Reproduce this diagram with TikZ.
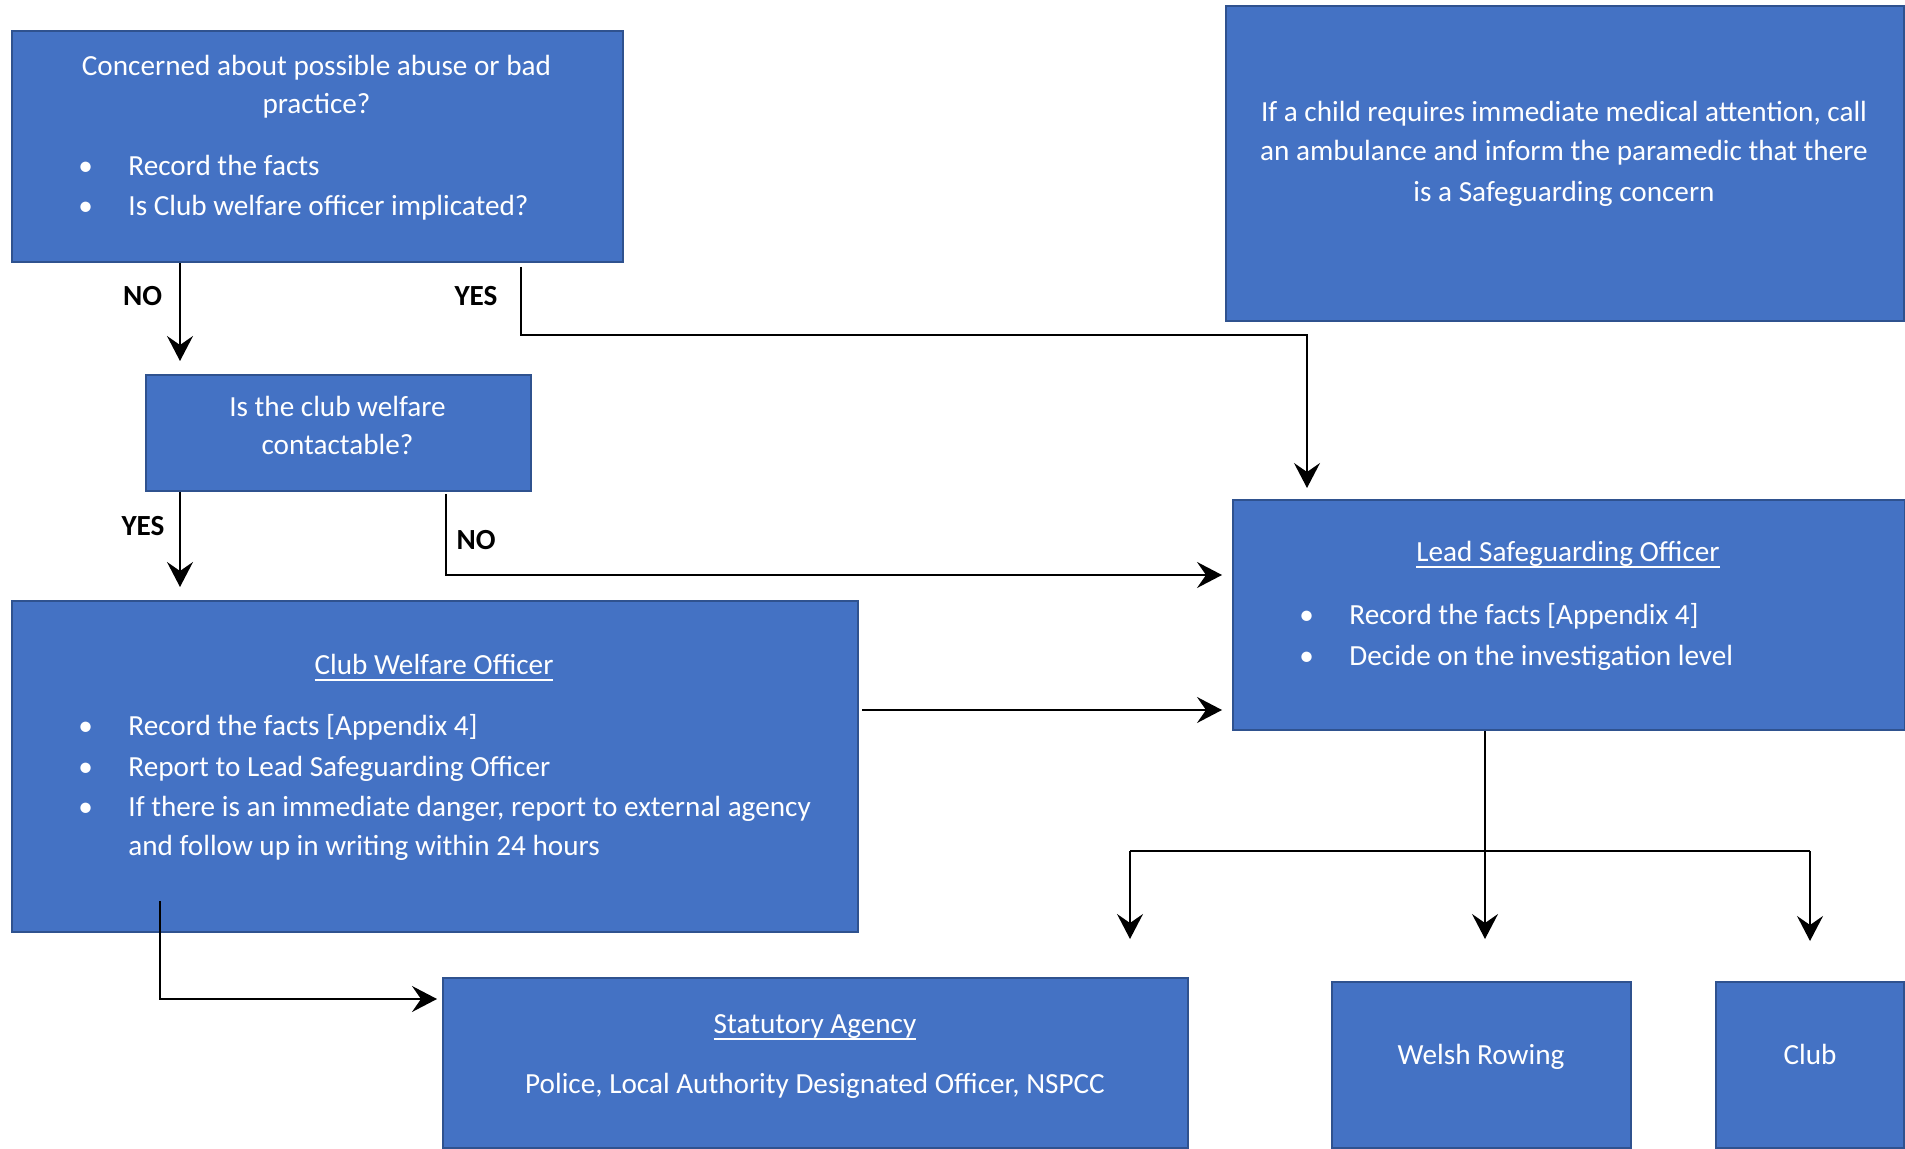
\documentclass[tikz,border=0pt]{standalone}
\usepackage{fontspec}
\setmainfont{Carlito}
\usetikzlibrary{arrows.meta}
\definecolor{boxblue}{HTML}{4472C4}
\definecolor{boxedge}{HTML}{2F528F}
\newcommand{\bul}{\makebox[25pt][l]{•}}
\newsavebox{\ulbox}
\newcommand{\myul}[1]{\sbox{\ulbox}{#1}\rlap{\rule[-3.1pt]{\wd\ulbox}{0.9pt}}\usebox{\ulbox}}
\begin{document}
\begin{tikzpicture}[x=0.5pt,y=-0.5pt,
  box/.style={draw=boxedge, line width=1pt, fill=boxblue, inner sep=0pt, anchor=north west},
  txt/.style={text=white, inner sep=0pt, anchor=base, font=\fontsize{14.6}{19.5}\selectfont},
  ltxt/.style={txt, anchor=base west},
  lbl/.style={text=black, inner sep=0pt, anchor=base, font=\fontsize{14.6}{19.5}\selectfont\bfseries},
  conn/.style={draw=black, line width=0.75pt},
  arr/.style={conn, -{Stealth[length=12.5pt,width=13pt,inset=4.5pt]}},
]
\useasboundingbox (0,0) rectangle (1905,1149);
\clip (0,0) rectangle (1905,1149);

% boxes
\node[box, minimum width=305.5pt, minimum height=115.5pt] (concern) at (11,30) {};
\node[box, minimum width=339pt, minimum height=157.5pt] (medical) at (1225,5) {};
\node[box, minimum width=192.5pt, minimum height=58pt] (contact) at (145,374) {};
\node[box, minimum width=336pt, minimum height=115pt] (lso) at (1232,499) {};
\node[box, minimum width=423pt, minimum height=165.5pt] (cwo) at (11,600) {};
\node[box, minimum width=372.5pt, minimum height=85pt] (stat) at (442,977) {};
\node[box, minimum width=149.5pt, minimum height=83pt] (welsh) at (1331,981) {};
\node[box, minimum width=94pt, minimum height=83pt] (club) at (1715,981) {};

% texts
\node[txt] (c1) at (316.5,75.5) {Concerned about possible abuse or bad};
\node[txt] (c2) at (316.5,114) {practice?};
\node[ltxt] (c3) at (78,175.5) {\bul Record the facts};
\node[ltxt] (c4) at (78,215.5) {\bul Is Club welfare officer implicated?};

\node[txt] (m1) at (1564,122) {If a child requires immediate medical attention, call};
\node[txt] (m2) at (1564,161) {an ambulance and inform the paramedic that there};
\node[txt] (m3) at (1564,201.5) {is a Safeguarding concern};

\node[txt] (k1) at (337.5,416.5) {Is the club welfare};
\node[txt] (k2) at (337.5,455) {contactable?};

\node[txt] (w0) at (434,674.5) {\myul{Club Welfare Officer}};
\node[ltxt] (w1) at (78,735) {\bul Record the facts [Appendix 4]};
\node[ltxt] (w2) at (78,776) {\bul Report to Lead Safeguarding Officer};
\node[ltxt] (w3) at (78,816) {\bul If there is an immediate danger, report to external agency};
\node[ltxt] (w4) at (128,855) {and follow up in writing within 24 hours};

\node[txt] (l0) at (1568,561.5) {\myul{Lead Safeguarding Officer}};
\node[ltxt] (l1) at (1299,624.5) {\bul Record the facts [Appendix 4]};
\node[ltxt] (l2) at (1299,665) {\bul Decide on the investigation level};

\node[txt] (s0) at (815,1033.5) {\myul{Statutory Agency}};
\node[txt] (s1t) at (815,1093) {Police, Local Authority Designated Officer, NSPCC};
\node[txt] (wr) at (1481,1064.5) {Welsh Rowing};
\node[txt] (cl) at (1810,1064.5) {Club};

% labels
\node[lbl] (no1) at (142.5,306) {NO};
\node[lbl] (yes1) at (476,306) {YES};
\node[lbl] (yes2) at (143,535.5) {YES};
\node[lbl] (no2l) at (476,549.5) {NO};

% connector coordinates
\coordinate (noX) at (180,0);
\coordinate (yesA) at (521,335);
\coordinate (yesB) at (1307,335);
\coordinate (no2) at (446,575);
\coordinate (midY) at (0,710);
\coordinate (sa) at (160,901);
\coordinate (sb) at (160,999);
\coordinate (bl) at (1130,851);
\coordinate (bm) at (1485,851);
\coordinate (br) at (1810,851);

\draw[arr, shorten >=6.5pt] (concern.south -| noX) -- (contact.north -| noX);
\draw[arr, shorten <=2pt, shorten >=5.5pt] (concern.south -| yesA) -- (yesA) -- (yesB) -- (lso.north -| yesB);
\draw[arr, shorten >=6.5pt] (contact.south -| noX) -- (cwo.north -| noX);
\draw[arr, shorten <=1pt, shorten >=5pt] (contact.south -| no2) -- (no2) -- (lso.west |- no2);
\draw[arr, shorten <=1.5pt, shorten >=5pt] (cwo.east |- midY) -- (lso.west |- midY);
\draw[arr, shorten >=2.5pt] (sa) -- (sb) -- (stat.west |- sb);
\draw[arr, shorten >=21pt] (lso.south -| bm) -- (welsh.north -| bm);
\draw[conn] (bl) -- (br);
\draw[arr, shorten >=19pt] (bl) -- (stat.north -| bl);
\draw[arr, shorten >=20pt] (br) -- (club.north -| br);
\end{tikzpicture}
\end{document}
